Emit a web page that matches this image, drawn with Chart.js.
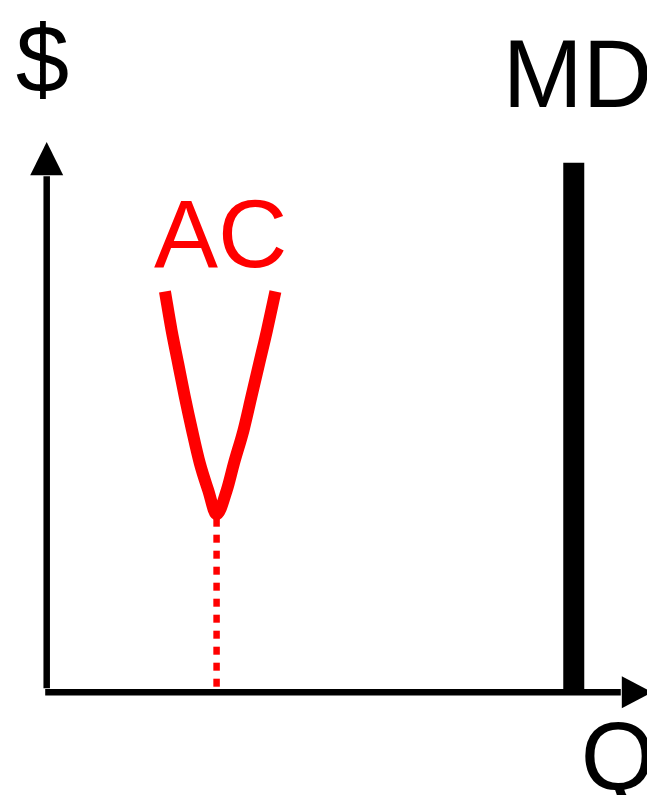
<!DOCTYPE html>
<html>
<head>
<meta charset="utf-8">
<script src="https://cdn.jsdelivr.net/npm/chart.js@4/dist/chart.umd.min.js"></script>
<style>
    html, body { margin: 0; padding: 0; background: #fff; }
    #wrap { width: 647px; height: 795px; position: relative; }
</style>
</head>
<body>
<div id="wrap"><canvas id="chart"></canvas></div>
<script>
// Average cost curve (quantity, cost)
const acQ = [19.7, 20.8, 21.9, 23.0, 24.2, 25.5, 26.9, 28.3, 30.0, 31.2, 32.8, 34.1, 35.4, 36.7, 38.1];
const acCost = [57.9, 52.3, 47.5, 42.7, 37.9, 33.1, 29.2, 25.7, 29.2, 33.1, 37.9, 42.7, 47.5, 52.3, 57.9];

// Minimum of AC dropped to the Q axis
const minQ = [28.3, 28.3];
const minCost = [0, 25.7];

// Market demand, vertical
const mdQ = [87.8, 87.8];
const mdCost = [0, 76.5];

// Axis ends
const yAxisTop = 79.5;
const yArrowBase = 74.7;
const xAxisEnd = 100.9;
const xArrowBase = 95.8;

const FONT = '"Liberation Sans", Arial, sans-serif';

function toPoints(xs, ys) {
    return xs.map((x, i) => ({ x: x, y: ys[i] }));
}

// Axes with arrow heads + text labels
const sketchPlugin = {
    id: 'sketch',
    beforeDatasetsDraw(chart) {
        const ctx = chart.ctx;
        const xs = chart.scales.x, ys = chart.scales.y;
        const x0 = xs.getPixelForValue(0), y0 = ys.getPixelForValue(0);
        ctx.save();
        ctx.strokeStyle = '#000';
        ctx.fillStyle = '#000';
        ctx.lineWidth = 6.5;
        ctx.lineCap = 'butt';

        // y axis
        const yb = ys.getPixelForValue(yArrowBase), yt = ys.getPixelForValue(yAxisTop);
        ctx.beginPath();
        ctx.moveTo(x0, y0 - 4);
        ctx.lineTo(x0, yb + 1);
        ctx.stroke();
        ctx.beginPath();
        ctx.moveTo(x0, yt);
        ctx.lineTo(x0 - 16.5, yb);
        ctx.lineTo(x0 + 16.5, yb);
        ctx.closePath();
        ctx.fill();

        // x axis
        const xb = xs.getPixelForValue(xArrowBase), xt = xs.getPixelForValue(xAxisEnd);
        ctx.beginPath();
        ctx.moveTo(x0 - 1.5, y0);
        ctx.lineTo(xb - 1, y0);
        ctx.stroke();
        ctx.beginPath();
        ctx.moveTo(xt, y0);
        ctx.lineTo(xb, y0 - 16);
        ctx.lineTo(xb, y0 + 16);
        ctx.closePath();
        ctx.fill();
        ctx.restore();
    },
    afterDatasetsDraw(chart) {
        const ctx = chart.ctx;
        const xs = chart.scales.x, ys = chart.scales.y;
        const x0 = xs.getPixelForValue(0), y0 = ys.getPixelForValue(0);
        ctx.save();
        ctx.textBaseline = 'alphabetic';
        ctx.textAlign = 'left';

        ctx.fillStyle = '#000';
        ctx.font = '96px ' + FONT;
        ctx.fillText('$', x0 - 31, 92);
        ctx.fillText('MD', xs.getPixelForValue(mdQ[0]) - 71, 107);
        ctx.fillText('Q', xs.getPixelForValue(mdQ[0]) + 7, y0 + 98);

        ctx.fillStyle = '#ff0000';
        ctx.fillText('AC', xs.getPixelForValue(acQ[0]) - 11, 267);
        ctx.restore();
    }
};

new Chart(document.getElementById('chart'), {
    type: 'line',
    data: {
        datasets: [
            {
                label: 'AC',
                data: toPoints(acQ, acCost),
                borderColor: '#ff0000',
                borderWidth: 12,
                borderCapStyle: 'butt',
                borderJoinStyle: 'round',
                cubicInterpolationMode: 'monotone',
                pointRadius: 0,
                fill: false
            },
            {
                label: 'min AC',
                data: toPoints(minQ, minCost),
                borderColor: '#ff0000',
                borderWidth: 6.5,
                borderDash: [8, 8],
                borderDashOffset: 10.4,
                borderCapStyle: 'butt',
                pointRadius: 0,
                fill: false
            },
            {
                label: 'MD',
                data: toPoints(mdQ, mdCost),
                borderColor: '#000',
                borderWidth: 21,
                borderCapStyle: 'butt',
                pointRadius: 0,
                fill: false
            }
        ]
    },
    options: {
        responsive: true,
        maintainAspectRatio: false,
        animation: false,
        layout: { padding: { left: 46.7, right: 0, top: 0, bottom: 102.7 } },
        plugins: {
            legend: { display: false },
            tooltip: { enabled: false }
        },
        scales: {
            x: { type: 'linear', min: 0, max: 100, display: false },
            y: { type: 'linear', min: 0, max: 100, display: false }
        }
    },
    plugins: [sketchPlugin]
});
</script>
</body>
</html>
